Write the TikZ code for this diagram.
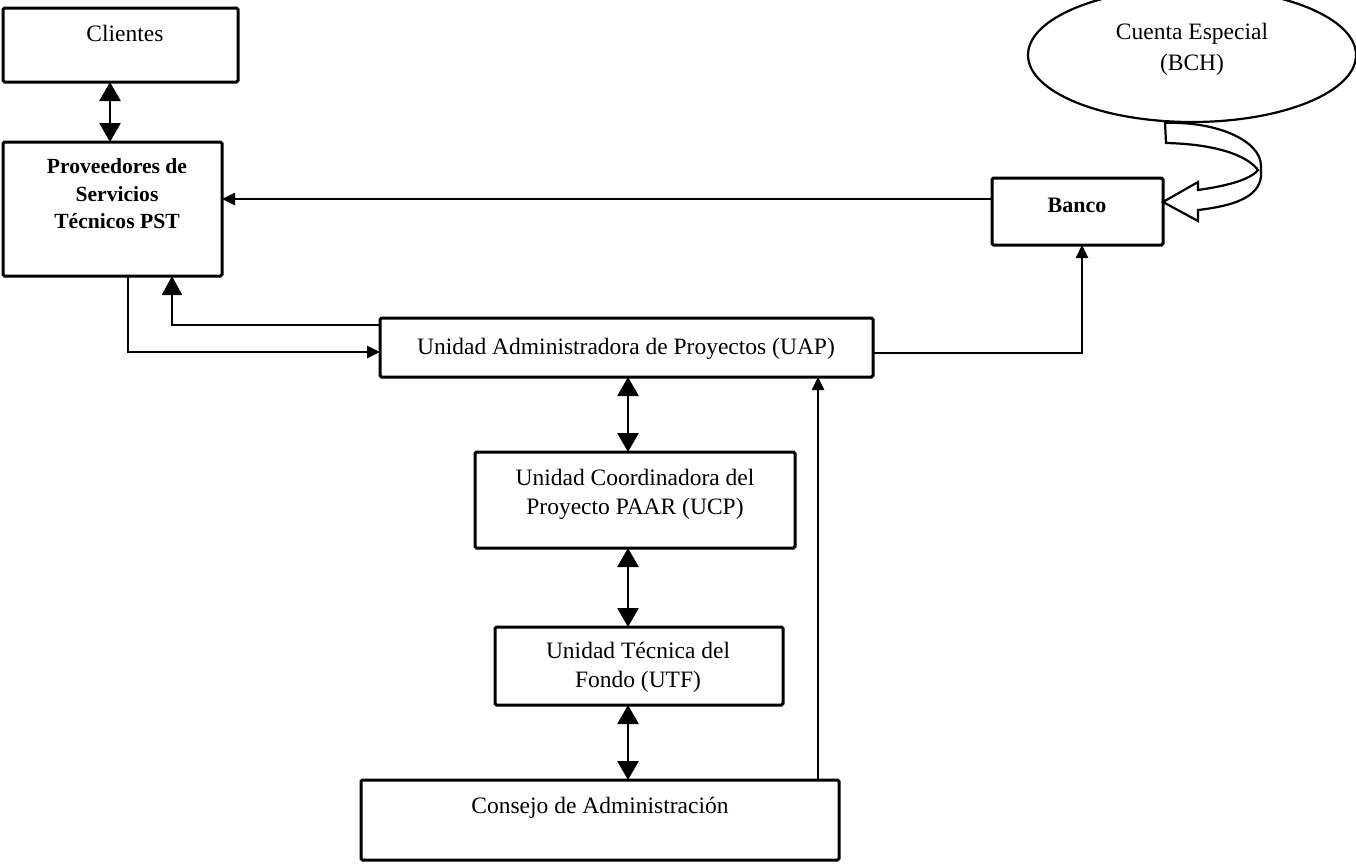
\documentclass[tikz,border=0pt]{standalone}
\usepackage{fontspec}
\setmainfont{Liberation Serif}
\usetikzlibrary{arrows.meta,shapes.geometric}
\begin{document}
\begin{tikzpicture}[x=1pt,y=-1pt,
  box/.style={draw, line width=3pt, rounded corners=1.5pt, inner sep=0pt, outer sep=0pt},
  txt/.style={font=\fontsize{23.5}{31}\selectfont, align=center, inner sep=0pt},
  btxt/.style={font=\fontsize{21.6}{27.5}\selectfont\bfseries, align=center, inner sep=0pt},
  conn/.style={line width=2.5pt},
  sarrow/.style={conn, -{Triangle[length=13pt,width=12pt]}},
  barrow/.style={conn, -{Triangle[length=19pt,width=20pt]}},
  dbl/.style={conn, {Triangle[length=19pt,width=21pt]}-{Triangle[length=19pt,width=21pt]}}
]
\useasboundingbox (0,0) rectangle (1356,863);

% boxes
\node[box, minimum width=235pt, minimum height=74pt] (cli) at (120.5,45) {};
\node[txt] (clit) at (125,33) {Clientes};

\node[box, minimum width=219pt, minimum height=134pt] (pst) at (112.5,209) {};
\node[btxt] (pstt) at (117,194) {Proveedores de\\Servicios\\Técnicos PST};

\node[draw, ellipse, line width=2.2pt, minimum width=328pt, minimum height=134pt, inner sep=0pt] (cta) at (1192,55) {};
\node[txt] (ctat) at (1192,49) {Cuenta Especial\\(BCH)};

\node[box, minimum width=171pt, minimum height=67pt] (banco) at (1077.5,211.5) {};
\node[btxt, font=\fontsize{22}{27}\selectfont\bfseries] (bancot) at (1077,205) {Banco};

\node[box, minimum width=493pt, minimum height=59pt] (uap) at (626.5,347.5) {};
\node[txt] (uapt) at (626,349) {Unidad Administradora de Proyectos (UAP)};

\node[box, minimum width=320pt, minimum height=96pt] (ucp) at (635,500) {};
\node[txt, font=\fontsize{23.5}{29}\selectfont] (ucpt) at (635,494) {Unidad Coordinadora del\\Proyecto PAAR (UCP)};

\node[box, minimum width=288pt, minimum height=78pt] (utf) at (639,666) {};
\node[txt, font=\fontsize{23.5}{29}\selectfont] (utft) at (638,667) {Unidad Técnica del\\Fondo (UTF)};

\node[box, minimum width=478pt, minimum height=80pt] (cons) at (600,820) {};
\node[txt] (const) at (600,808) {Consejo de Administración};

% guide coordinates
\coordinate (x110) at (110,0);
\coordinate (x128) at (128,0);
\coordinate (x172) at (172,0);
\coordinate (x628) at (628,0);
\coordinate (x818) at (818,0);
\coordinate (x1082) at (1082,0);
\coordinate (y200) at (0,199);
\coordinate (y325) at (0,325);
\coordinate (y352) at (0,352);
\coordinate (y353) at (0,353);

% connectors
\draw[dbl] (x110 |- cli.south) -- (x110 |- pst.north);
\draw[sarrow] (banco.west |- y200) -- (pst.east |- y200);
\draw[sarrow] (x128 |- pst.south) |- (uap.west |- y352);
\draw[barrow] (uap.west |- y325) -| (x172 |- pst.south);
\draw[sarrow] (uap.east |- y353) -| (x1082 |- banco.south);
\draw[dbl] (x628 |- uap.south) -- (x628 |- ucp.north);
\draw[dbl] (x628 |- ucp.south) -- (x628 |- utf.north);
\draw[dbl] (x628 |- utf.south) -- (x628 |- cons.north);
\draw[sarrow] (x818 |- cons.north) -- (x818 |- uap.south);

% curved block arrow from Cuenta Especial to Banco
\draw[line width=2.2pt, fill=white, line join=miter]
  (1165,123) .. controls (1215,121) and (1261,140) .. (1261,166)
  -- (1261,176)
  .. controls (1259,198) and (1232,206) .. (1198,210)
  -- (1198,221) -- (banco.east |- 0,202) -- (1198,182) -- (1198,190)
  .. controls (1226,186) and (1250,180) .. (1258,170)
  .. controls (1246,154) and (1212,144) .. (1166,143)
  -- cycle;
\end{tikzpicture}
\end{document}
